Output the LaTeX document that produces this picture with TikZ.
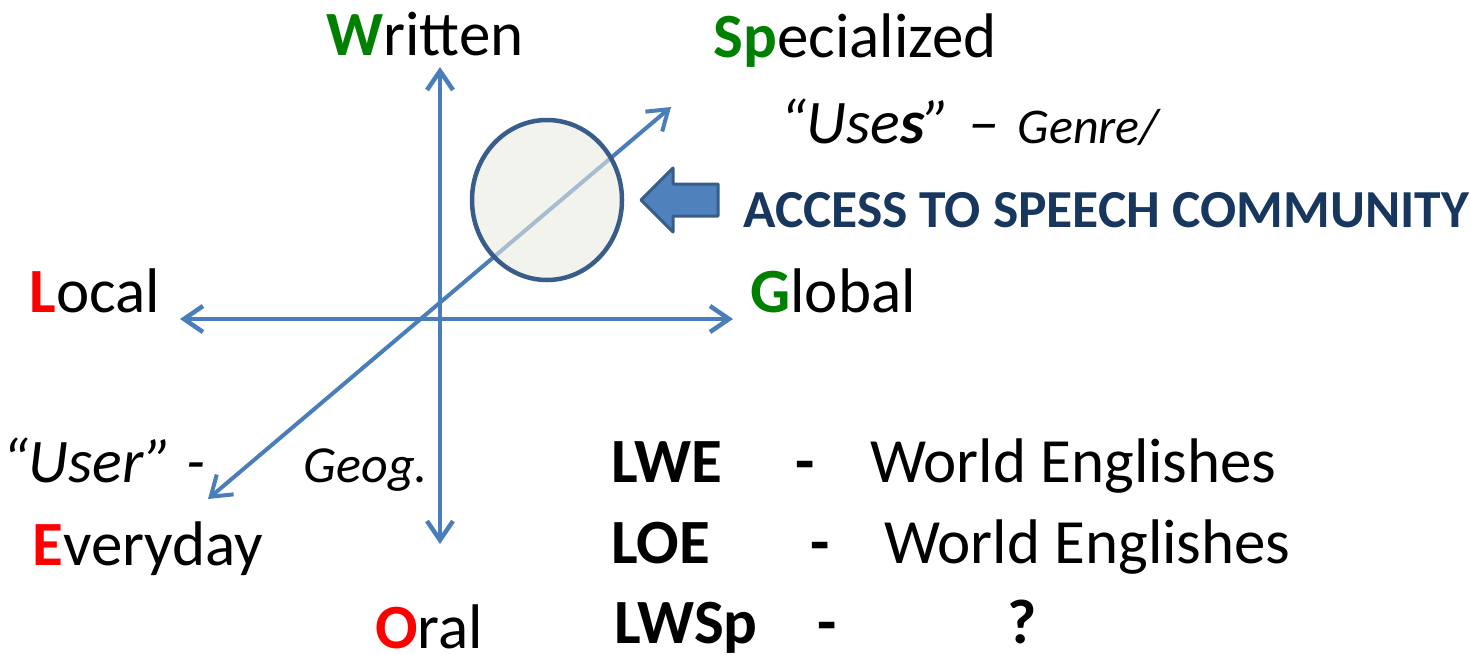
\documentclass[tikz,border=0pt]{standalone}
\usepackage{fontspec}
\setmainfont{Carlito}
\usepackage{tikz}
\usetikzlibrary{arrows.meta,shapes.geometric}
\definecolor{axisblue}{RGB}{74,126,187}
\definecolor{rimblue}{RGB}{56,93,138}
\definecolor{padblue}{RGB}{79,129,189}
\definecolor{discfill}{RGB}{234,234,226}
\definecolor{navytext}{RGB}{23,55,94}
\definecolor{keygreen}{RGB}{0,128,0}
\definecolor{keyred}{RGB}{255,0,0}
% coloured bold first letters of the axis labels
\newcommand{\keyletter}[2]{\textbf{\color{#1}#2}}

\begin{document}
\begin{tikzpicture}[x=1pt, y=-1pt,
    word/.style={inner sep=0pt, anchor=base, font=\fontsize{63}{75}\selectfont},
    note/.style={inner sep=0pt, anchor=base, font=\fontsize{62}{74}\selectfont\itshape},
    code/.style={inner sep=0pt, anchor=base west, font=\fontsize{63}{75}\selectfont\bfseries},
    axis/.style={{Straight Barb[length=19pt,width=26pt]}-{Straight Barb[length=19pt,width=26pt]},
                 line width=4.5pt, axisblue, line cap=round, line join=round}
]
\useasboundingbox (0,0) rectangle (1470,654);

% axis ends
\coordinate (north) at (440,67);
\coordinate (south) at (440,544);
\coordinate (west) at (180,319);
\coordinate (east) at (733,319);
\coordinate (far) at (671,107);
\coordinate (near) at (208,499);

\draw[axis] (south) -- (north);
\draw[axis] (west) -- (east);
\draw[axis, line width=4pt] (near) -- (far);

% the disc sits on the diagonal, which shows through it
\node[ellipse, draw=rimblue, line width=4.5pt, fill=discfill, fill opacity=0.58,
      draw opacity=1, minimum width=150pt, minimum height=160pt, inner sep=0pt]
    (disc) at (547,200) {};
\draw[line width=3pt, draw=rimblue, fill=padblue, line join=round]
    (718,184) -- (673,184) -- (673,168) -- (641,200) -- (673,232) -- (673,216) -- (718,216) -- cycle;

% axis labels
\node[word] (written) at (425,55) {\keyletter{keygreen}{W}ritten};
\node[word] (special) at (855,57) {\keyletter{keygreen}{Sp}ecialized};
\node[word] (local) at (95,312) {\keyletter{keyred}{L}ocal};
\node[word] (global) at (833,312) {\keyletter{keygreen}{G}lobal};
\node[word] (everyday) at (148,565) {\keyletter{keyred}{E}veryday};
\node[word] (oral) at (429,648) {\keyletter{keyred}{O}ral};

\node[note] (uses) at (970,143)
    {“Use\textbf{s}”\hspace{4pt} –\hspace{4pt} {\fontsize{50}{60}\selectfont Genre/}};
\node[inner sep=0pt, anchor=base, text=navytext, font=\fontsize{53.5}{64}\selectfont\bfseries]
    (access) at (1106,227) {ACCESS TO SPEECH COMMUNITY};
\node[note] (user) at (104,482) {“User” -};
\node[note, font=\fontsize{52}{62}\selectfont\itshape] (geog) at (366,482) {Geog.};

% abbreviations
\node[code] (lwe) at (611,482) {LWE};
\node[code, anchor=base] (lwe-dash) at (805,482) {-};
\node[word, anchor=base west] (lwe-def) at (870,482) {World Englishes};
\node[code] (loe) at (611,563) {LOE};
\node[code, anchor=base] (loe-dash) at (820,563) {-};
\node[word, anchor=base west] (loe-def) at (884,563) {World Englishes};
\node[code] (lwsp) at (614,643) {LWSp};
\node[code, anchor=base] (lwsp-dash) at (827,643) {-};
\node[code, anchor=base] (lwsp-def) at (1022,643) {?};
\end{tikzpicture}
\end{document}
